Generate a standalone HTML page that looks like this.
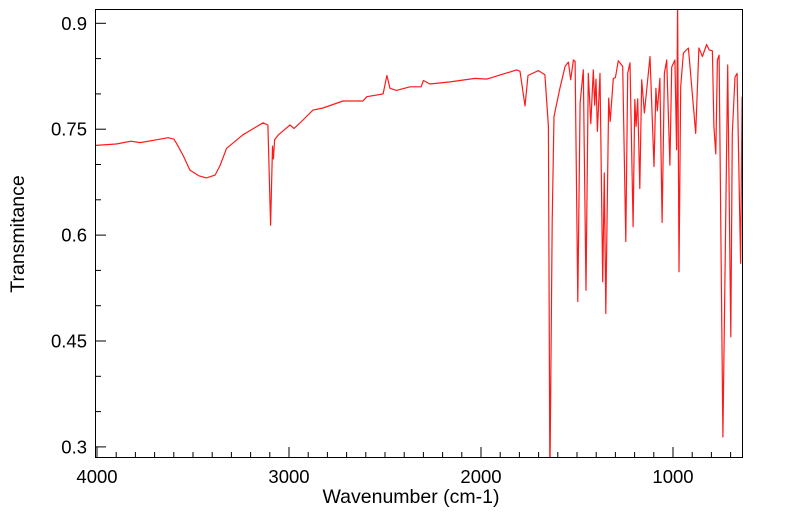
<!DOCTYPE html>
<html><head><meta charset="utf-8"><style>
body{margin:0;background:#fff;}
svg{display:block;font-family:"Liberation Sans",sans-serif;}
</style></head><body>
<svg id="chart" width="799" height="516" xmlns="http://www.w3.org/2000/svg">
<defs><clipPath id="clip"><rect x="96" y="10" width="646" height="447"/></clipPath></defs>
<g id="axes"></g>
<path id="spectrum" clip-path="url(#clip)" fill="none" stroke="#ff1a1a" stroke-width="1.2" stroke-linejoin="round"/>
<rect x="95.5" y="9.5" width="647" height="448" fill="none" stroke="#000" stroke-width="1"/>
<text x="411" y="503" font-size="19.5" text-anchor="middle">Wavenumber (cm-1)</text>
<text transform="translate(24,234) rotate(-90)" font-size="19.5" text-anchor="middle">Transmitance</text>
</svg>
<script>
const wn=[4010,3900,3823,3776,3690,3630,3600,3586,3550,3516,3470,3430,3385,3360,3325,3240,3135,3110,3096,3086,3081,3075,3055,2995,2974,2927,2875,2823,2719,2615,2595,2510,2490,2474,2440,2370,2312,2300,2266,2161,2031,1970,1814,1797,1771,1755,1701,1667,1649,1641,1629,1620,1589,1562,1545,1533,1519,1510,1496,1484,1467,1453,1441,1428,1415,1408,1401,1394,1380,1366,1358,1350,1335,1327,1311,1300,1285,1262,1246,1236,1224,1208,1199,1192,1184,1173,1163,1149,1120,1099,1089,1082,1068,1057,1045,1033,1016,1007,990,981,976,969,960,946,920,882,865,847,825,811,795,787,777,769,760,740,715,699,691,677,666,648,640];
const tr=[0.727,0.729,0.733,0.731,0.735,0.738,0.736,0.730,0.712,0.692,0.684,0.681,0.685,0.698,0.723,0.742,0.759,0.756,0.614,0.726,0.708,0.735,0.742,0.756,0.751,0.763,0.777,0.780,0.790,0.790,0.796,0.800,0.826,0.808,0.805,0.810,0.810,0.819,0.814,0.817,0.822,0.821,0.834,0.832,0.783,0.826,0.833,0.827,0.754,0.25,0.62,0.768,0.808,0.839,0.845,0.820,0.848,0.846,0.506,0.787,0.834,0.522,0.829,0.758,0.834,0.784,0.821,0.747,0.829,0.534,0.688,0.489,0.794,0.761,0.822,0.823,0.847,0.839,0.591,0.829,0.844,0.612,0.792,0.754,0.793,0.666,0.820,0.773,0.853,0.697,0.808,0.776,0.822,0.618,0.829,0.848,0.699,0.838,0.848,0.721,0.93,0.548,0.810,0.858,0.865,0.744,0.865,0.853,0.870,0.862,0.861,0.754,0.715,0.848,0.855,0.314,0.841,0.456,0.744,0.824,0.829,0.560,0.796];
const xTicks=[4000,3000,2000,1000];
const xTickLabels=["4000","3000","2000","1000"];
const yTicks=[0.9,0.75,0.6,0.45,0.3];
const yTickLabels=["0.9","0.75","0.6","0.45","0.3"];
const X=w=>673-(w-1000)*0.192;
const Y=t=>23.3+(0.9-t)*706;
const NS="http://www.w3.org/2000/svg";
const axes=document.getElementById('axes');
function line(x1,y1,x2,y2,name){const l=document.createElementNS(NS,'line');l.setAttribute('x1',x1);l.setAttribute('y1',y1);l.setAttribute('x2',x2);l.setAttribute('y2',y2);l.setAttribute('stroke','#000');l.setAttribute('stroke-width','1');


axes.appendChild(l);}
function text(x,y,s,anchor,name){const t=document.createElementNS(NS,'text');t.setAttribute('x',x);t.setAttribute('y',y);t.setAttribute('font-size','18.5');t.setAttribute('text-anchor',anchor);t.textContent=s;


axes.appendChild(t);}
for(let w=700;w<=4000;w+=100){const x=X(w);const major=w%1000===0;line(x,457,x,457-(major?10:5),'x-tick');}
for(let t=0.3;t<=0.9001;t+=0.05){const y=Y(t);const major=Math.abs((t-0.3)/0.15-Math.round((t-0.3)/0.15))<1e-6;line(96,y,96+(major?10:5),y,'y-tick');}
xTicks.forEach((w,i)=>text(X(w),483,xTickLabels[i],'middle','x-tick-label'));
yTicks.forEach((t,i)=>text(87,Y(t)+6.5,yTickLabels[i],'end','y-tick-label'));
let d='';wn.forEach((w,i)=>{d+=(i?'L':'M')+X(w).toFixed(1)+','+Y(tr[i]).toFixed(1);});
document.getElementById('spectrum').setAttribute('d',d);
</script>
</body></html>
